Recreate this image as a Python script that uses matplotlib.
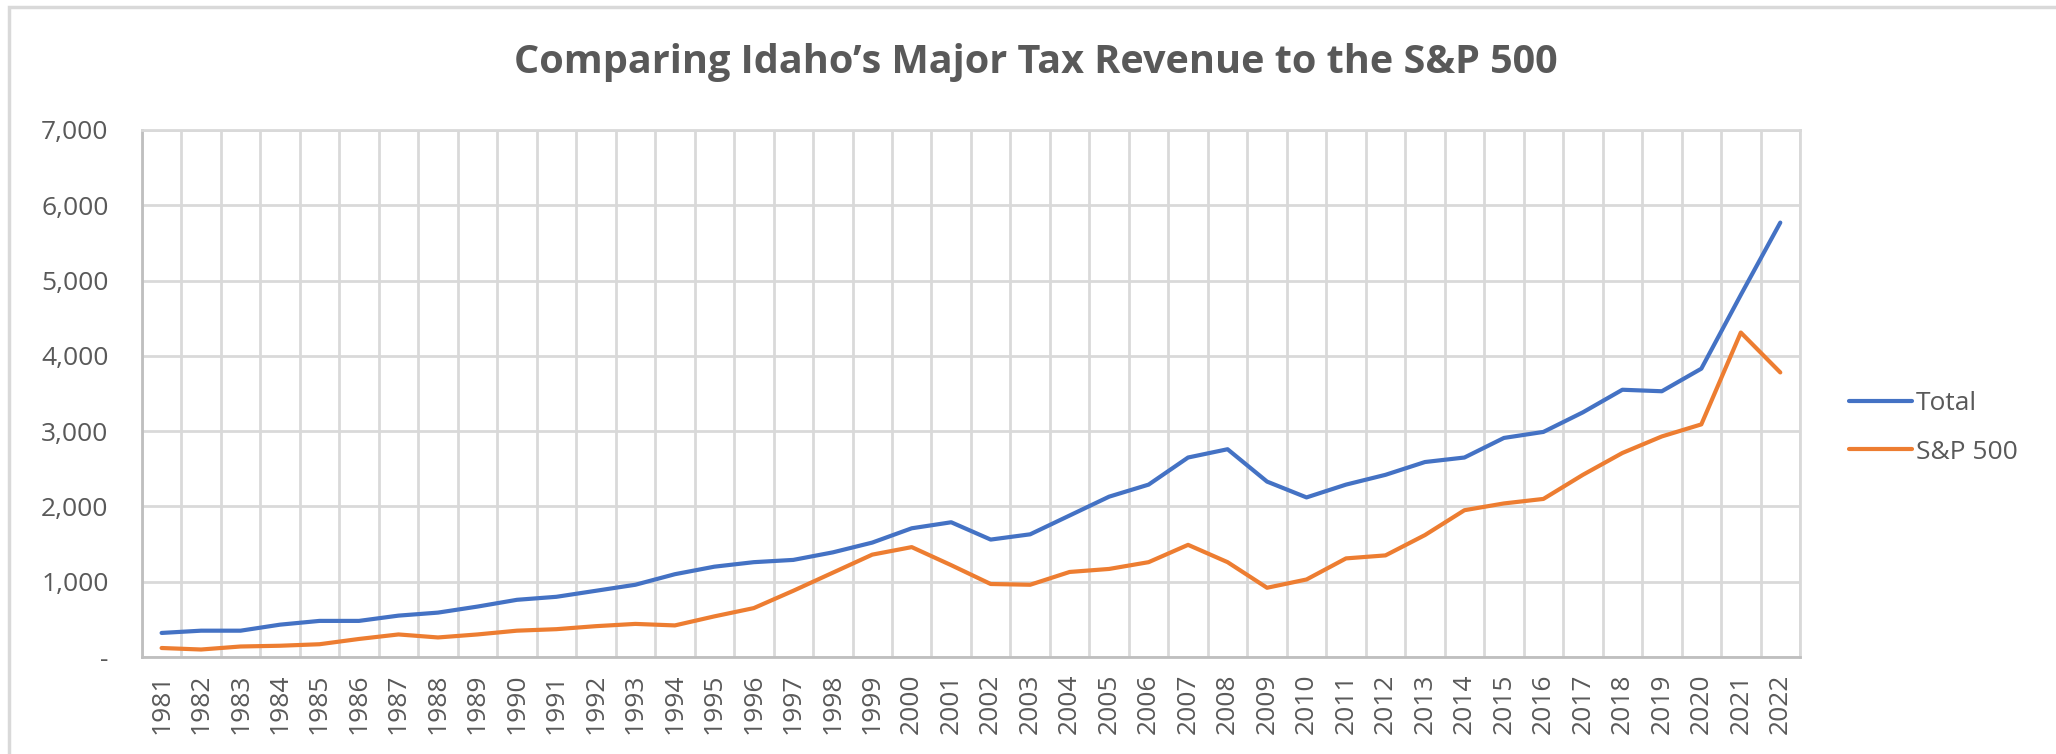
# Idaho major tax revenue vs S&P 500

import matplotlib.pyplot as plt
from matplotlib.patches import Rectangle
from matplotlib.ticker import FuncFormatter, MultipleLocator
import numpy as np

# data
years = list(range(1981, 2023))
total = [320, 350, 350, 430, 480, 480, 550, 590, 670, 760, 800, 880, 960, 1100,
         1200, 1260, 1290, 1390, 1520, 1710, 1790, 1560, 1630, 1880, 2130, 2290,
         2650, 2760, 2330, 2120, 2290, 2420, 2590, 2650, 2910, 2990, 3250, 3550,
         3530, 3830, 4810, 5770]
sp500 = [120, 100, 140, 150, 170, 240, 300, 260, 300, 350, 370, 410, 440, 420,
         540, 650, 880, 1120, 1360, 1460, 1220, 970, 960, 1130, 1170, 1260,
         1490, 1260, 920, 1030, 1310, 1350, 1620, 1950, 2040, 2100, 2420, 2710,
         2930, 3090, 4310, 3780]
series_names = ['Total', 'S&P 500']

blue = '#4472C4'
orange = '#ED7D31'
grid = '#d9d9d9'
text = '#595959'

plt.rcParams['font.family'] = ['Open Sans', 'DejaVu Sans']

fig = plt.figure(figsize=(20.56, 7.54), dpi=100)
# chart area border like Excel
fig.patches.append(Rectangle((9 / 2056, -0.1), 1.2, (754 - 7) / 754 + 0.1,
                             transform=fig.transFigure, fill=False,
                             edgecolor=grid, linewidth=2.5))

ax = fig.add_axes([0.069, 0.1286, 0.8065, 0.699])
x = np.arange(len(years))
ax.plot(x, total, color=blue, lw=3, label=series_names[0], solid_capstyle='round')
ax.plot(x, sp500, color=orange, lw=3, label=series_names[1], solid_capstyle='round')

ax.set_xlim(-0.5, len(years) - 0.5)
ax.set_ylim(0, 7000)
ax.yaxis.set_major_locator(MultipleLocator(1000))
ax.yaxis.set_major_formatter(FuncFormatter(lambda v, p: '-' if v == 0 else f'{v:,.0f}'))
ax.set_xticks(x)
ax.set_xticklabels([str(y) for y in years], rotation=90)
ax.set_xticks(np.arange(-0.5, len(years)), minor=True)

ax.grid(True, axis='y', color=grid, lw=2)
ax.grid(True, axis='x', which='minor', color=grid, lw=2)
ax.grid(False, axis='x', which='major')
ax.set_axisbelow(True)
for s in ax.spines.values():
    s.set_color(grid)
    s.set_linewidth(2)
ax.spines['bottom'].set_color('#bfbfbf')
ax.spines['left'].set_color('#bfbfbf')

ax.tick_params(axis='both', which='both', length=0, colors=text, labelsize=19)
ax.tick_params(axis='y', pad=24)
ax.tick_params(axis='x', pad=12)

fig.text(0.504, 1 - 62 / 754, 'Comparing Idaho\u2019s Major Tax Revenue to the S&P 500',
         ha='center', va='center', fontsize=28.5, fontweight='bold', color=text)

leg = ax.legend(loc='center left', bbox_to_anchor=(1.015, 0.435), frameon=False,
                fontsize=19, handlelength=2.4, handletextpad=0.15, labelspacing=0.9)
for t in leg.get_texts():
    t.set_color(text)

fig.savefig('out.png', dpi=100)
